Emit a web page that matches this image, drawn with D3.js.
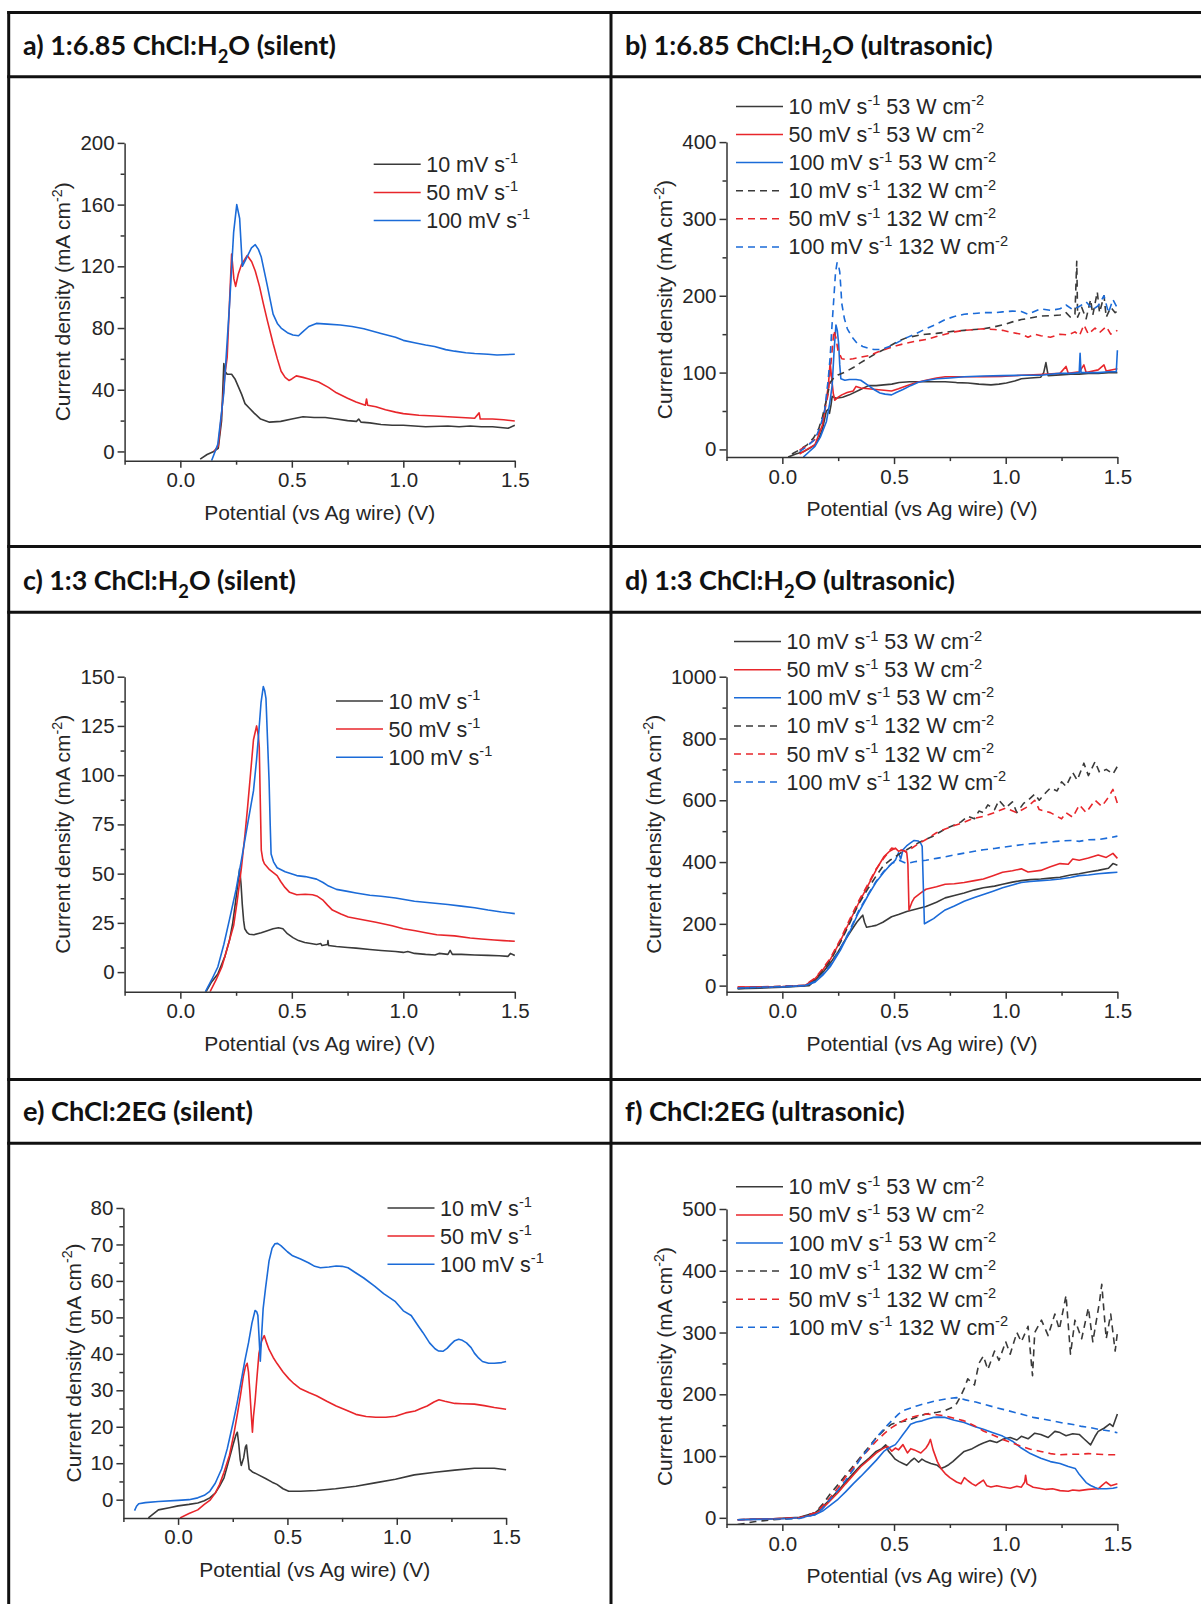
<!DOCTYPE html>
<html>
<head>
<meta charset="utf-8">
<script src="https://cdn.jsdelivr.net/npm/d3@7"></script>
<style>
body { margin: 0; background: #fff; }
svg { display: block; }
.axis text { font-family: "Liberation Sans", Arial, sans-serif; font-size: 20.5px; fill: #262626; }
.axis path, .axis line { stroke: #333; stroke-width: 1.5; }
.atitle { font-family: "Liberation Sans", Arial, sans-serif; font-size: 21px; fill: #262626; }
.legend text { font-family: "Liberation Sans", Arial, sans-serif; font-size: 21.5px; fill: #262626; }
.header { font-family: Lato, "Open Sans", sans-serif; font-weight: 700; fill: #111; }
</style>
</head>
<body>
<div class="figdiv"></div>
<script>
//sweeps: [potential (V), current density (mA cm-2)]

//a) 1:6.85 ChCl:H2O silent
var a10 = [[0.089,-5],[0.12,-2],[0.15,0],[0.17,2],[0.185,20],[0.195,57],[0.2,52],[0.21,50],[0.23,50],[0.245,47],[0.26,42],[0.275,37],[0.29,31],[0.31,28],[0.33,25],[0.36,21],[0.4,19],[0.45,19.5],[0.5,21],[0.55,22.5],[0.6,22],[0.65,22],[0.7,21],[0.75,20],[0.79,19.5],[0.8,21],[0.81,19],[0.85,18.5],[0.9,17.5],[0.95,17],[1.0,17],[1.05,16.5],[1.1,16],[1.2,16.5],[1.25,16],[1.3,16.5],[1.35,16],[1.4,16],[1.47,15],[1.5,17]];
var a50 = [[0.15,0],[0.17,3.5],[0.186,26],[0.2,50],[0.21,61],[0.22,95],[0.23,128],[0.24,112],[0.248,107],[0.26,115],[0.274,121],[0.3,127],[0.32,123],[0.336,117],[0.355,107],[0.372,96],[0.39,85],[0.416,70],[0.435,60],[0.452,52],[0.47,48],[0.487,46],[0.5,47],[0.52,49],[0.55,48],[0.576,47],[0.62,45],[0.664,41.5],[0.7,38],[0.75,34.5],[0.788,32],[0.83,30],[0.835,34],[0.84,30],[0.877,29],[0.92,27],[0.965,25.5],[1.0,24.5],[1.07,23.5],[1.14,23],[1.2,22.5],[1.26,22],[1.32,21.5],[1.34,25],[1.345,21],[1.4,21],[1.45,20.5],[1.5,19.7]];
var a100 = [[0.14,-6],[0.168,4.6],[0.195,38],[0.221,96],[0.239,142],[0.253,160],[0.266,151],[0.278,120],[0.292,124],[0.319,132],[0.336,134],[0.35,131],[0.363,126],[0.39,107.5],[0.416,89],[0.435,83],[0.452,80],[0.48,77],[0.505,75.5],[0.53,75],[0.545,77],[0.576,81],[0.61,83],[0.66,82.5],[0.717,82],[0.77,81],[0.823,79.5],[0.9,76.5],[0.965,74],[1.0,72],[1.05,70.5],[1.1,69],[1.14,68],[1.19,66],[1.23,65],[1.28,64],[1.32,63.5],[1.38,63],[1.42,62.5],[1.5,63]];

//b) 1:6.85 ChCl:H2O ultrasonic, s = 53 W cm-2, d = 132 W cm-2
var b10s = [[0.026,-10],[0.06,-6],[0.094,-3],[0.12,1],[0.146,6],[0.165,15],[0.18,27],[0.197,50],[0.205,52],[0.211,47],[0.218,58],[0.223,69],[0.24,66.5],[0.27,68],[0.3,71],[0.35,78],[0.386,83],[0.42,83],[0.454,84],[0.49,85],[0.523,87],[0.57,88],[0.609,88],[0.67,88],[0.729,88],[0.78,87],[0.831,86.5],[0.88,85],[0.934,84],[0.97,85],[1.003,86.5],[1.04,89],[1.07,92],[1.11,93],[1.157,94],[1.17,100],[1.18,113],[1.19,96],[1.243,97],[1.29,98],[1.329,98],[1.37,99],[1.414,99],[1.46,100],[1.5,100]];
var b50s = [[0.077,-6],[0.11,0],[0.146,6],[0.18,32],[0.206,83],[0.214,113],[0.221,92],[0.228,73],[0.235,64],[0.25,68],[0.266,71],[0.29,74],[0.317,76],[0.33,82],[0.351,80],[0.385,79],[0.42,78],[0.455,77],[0.489,76],[0.52,79],[0.557,83],[0.6,87],[0.643,90],[0.69,93],[0.729,94.5],[0.814,94.5],[0.9,94.5],[0.98,95],[1.07,96.5],[1.15,97.5],[1.243,99],[1.27,108],[1.28,99],[1.33,101],[1.35,110],[1.36,100],[1.414,103.5],[1.44,110],[1.45,102],[1.5,105]];
var b100s = [[0.094,-10],[0.12,-3],[0.146,4],[0.17,16],[0.197,36],[0.212,60],[0.223,83],[0.232,130],[0.24,162],[0.246,155],[0.252,138],[0.257,110],[0.262,92],[0.28,90],[0.3,91],[0.33,91],[0.351,90],[0.386,83],[0.41,78],[0.437,73.5],[0.46,72],[0.489,71],[0.51,74],[0.54,78],[0.574,83],[0.609,87.5],[0.65,90],[0.694,92],[0.75,93],[0.814,94.5],[0.9,95.5],[0.986,96],[1.07,96.5],[1.157,96.5],[1.24,99],[1.3,99],[1.329,100],[1.333,125],[1.337,100],[1.414,100],[1.46,101],[1.495,101],[1.5,129]];
var b10d = [[0.043,-6],[0.08,0],[0.111,6],[0.14,15],[0.163,27],[0.18,43],[0.197,64],[0.214,87],[0.23,93],[0.249,97],[0.283,101],[0.32,107],[0.351,113],[0.385,119],[0.42,125],[0.455,130],[0.489,136],[0.52,141],[0.557,145.5],[0.6,148],[0.643,150],[0.69,151],[0.729,152.5],[0.77,154],[0.814,155],[0.86,156],[0.9,157],[0.94,159],[0.986,162],[1.03,166],[1.07,169],[1.11,171],[1.157,173.5],[1.2,174],[1.243,175],[1.27,178],[1.29,172],[1.31,176],[1.318,245],[1.322,172],[1.34,185],[1.36,170],[1.38,195],[1.39,175],[1.41,205],[1.42,178],[1.44,200],[1.45,172],[1.47,185],[1.49,178],[1.5,180]];
var b50d = [[0.077,-1],[0.11,5],[0.146,13],[0.165,24],[0.18,36],[0.206,73.5],[0.22,120],[0.231,155],[0.24,145],[0.249,129],[0.266,118],[0.29,117],[0.317,118],[0.35,120],[0.386,122],[0.43,127],[0.471,131.5],[0.51,135],[0.557,138.5],[0.6,141],[0.643,143],[0.69,147],[0.729,150],[0.77,153],[0.814,155],[0.86,156],[0.9,157],[0.95,156],[0.986,155],[1.03,152],[1.07,150],[1.1,146],[1.13,150],[1.157,148],[1.2,146],[1.243,150],[1.28,149],[1.31,153],[1.33,148],[1.35,162],[1.37,150],[1.4,158],[1.42,152],[1.45,160],[1.47,150],[1.5,155]];
var b100d = [[0.077,-3],[0.11,4],[0.146,13],[0.17,30],[0.189,50],[0.205,90],[0.214,120],[0.222,160],[0.231,199],[0.238,230],[0.245,243],[0.251,240],[0.257,231],[0.262,210],[0.266,190],[0.278,170],[0.291,157],[0.31,147],[0.334,138.5],[0.36,134],[0.386,131.5],[0.41,130],[0.437,130],[0.46,132],[0.489,135],[0.52,140],[0.557,145.5],[0.6,151],[0.643,157],[0.69,163],[0.729,169],[0.77,173],[0.814,176],[0.86,177],[0.9,178],[0.95,178],[0.986,179],[1.03,180],[1.07,179.5],[1.1,176],[1.157,183],[1.2,181],[1.243,183],[1.27,188],[1.3,182],[1.329,186],[1.36,192],[1.39,182],[1.414,187],[1.44,200],[1.46,178],[1.48,195],[1.5,184]];

//c) 1:3 ChCl:H2O silent
var c10 = [[0.115,-10],[0.14,-5],[0.168,-1],[0.2,8],[0.221,16.5],[0.235,25],[0.248,36],[0.258,45],[0.266,52.5],[0.272,45],[0.278,34],[0.284,26],[0.289,22],[0.3,20],[0.31,19.2],[0.33,19],[0.363,20],[0.39,21],[0.416,22],[0.44,22.5],[0.46,22],[0.48,19.5],[0.505,17.5],[0.53,16],[0.558,15],[0.585,14.5],[0.611,14],[0.63,14.5],[0.635,13.5],[0.66,14],[0.662,16],[0.665,13.5],[0.7,13],[0.75,12.5],[0.788,12.2],[0.85,11.5],[0.9,11],[0.965,10.5],[1.0,10],[1.02,10.5],[1.05,9.5],[1.1,9],[1.142,8.7],[1.16,9.5],[1.2,9],[1.21,11],[1.22,9],[1.26,9],[1.32,8.7],[1.38,8.5],[1.43,8.3],[1.47,8],[1.48,9.5],[1.5,8.4]];
var c50 = [[0.133,-10],[0.16,-4],[0.186,2.6],[0.21,12],[0.239,23.6],[0.255,36],[0.274,53],[0.29,70],[0.301,83],[0.315,101],[0.328,118],[0.342,125],[0.35,120],[0.354,114],[0.358,90],[0.363,62],[0.37,57],[0.377,55],[0.4,52],[0.434,49],[0.45,46],[0.469,43],[0.49,40.5],[0.522,39.3],[0.56,39.5],[0.593,39.3],[0.615,38.5],[0.638,36.7],[0.66,34],[0.682,31.5],[0.72,29.5],[0.753,28],[0.8,27],[0.877,25.3],[0.95,23.5],[1.0,22],[1.054,21],[1.1,20],[1.15,19],[1.23,18.4],[1.3,17.3],[1.35,16.8],[1.408,16.3],[1.45,16],[1.5,15.7]];
var c100 = [[0.112,-10],[0.14,-4],[0.168,2.6],[0.195,14],[0.221,27],[0.25,42],[0.274,57],[0.3,74],[0.328,92],[0.342,108],[0.354,125],[0.362,137],[0.372,145],[0.378,143],[0.384,139],[0.391,118],[0.398,97],[0.403,75],[0.407,60],[0.418,56],[0.434,53],[0.47,51],[0.522,49],[0.56,48.5],[0.611,47.2],[0.64,45.5],[0.66,44],[0.7,42],[0.75,41],[0.788,40.2],[0.85,39],[0.9,38.5],[0.965,37.6],[1.05,36],[1.142,35],[1.2,34.3],[1.26,33.5],[1.32,32.7],[1.38,31.5],[1.44,30.5],[1.5,29.7]];

//d) 1:3 ChCl:H2O ultrasonic
var d10s = [[-0.2,-10],[-0.1,-8],[0,-5],[0.06,-3],[0.12,0],[0.146,17],[0.18,42],[0.214,72],[0.25,110],[0.283,150],[0.31,180],[0.334,206],[0.35,220],[0.36,228],[0.368,205],[0.377,189],[0.4,192],[0.42,195],[0.45,205],[0.489,223],[0.52,230],[0.557,240],[0.6,248],[0.643,256],[0.69,270],[0.729,284],[0.77,292],[0.814,300],[0.86,310],[0.9,317],[0.95,322],[0.986,328],[1.03,335],[1.07,340],[1.11,343],[1.157,345],[1.2,348],[1.243,351],[1.29,358],[1.329,362],[1.37,368],[1.414,373],[1.46,380],[1.48,395],[1.5,390]];
var d50s = [[-0.2,-5],[-0.1,-4],[0,-3],[0.1,0],[0.146,22],[0.18,50],[0.214,83.5],[0.26,145],[0.3,206],[0.34,265],[0.386,328],[0.42,375],[0.454,417],[0.48,435],[0.506,445],[0.52,435],[0.54,440],[0.557,430],[0.562,395],[0.567,245],[0.58,270],[0.591,284],[0.62,300],[0.643,312],[0.69,320],[0.729,328],[0.77,330],[0.814,334],[0.86,340],[0.9,345],[0.94,355],[0.986,367],[1.03,372],[1.07,378],[1.1,368],[1.157,373],[1.2,385],[1.243,395],[1.28,393],[1.3,410],[1.329,406],[1.37,413],[1.414,423],[1.45,415],[1.48,428],[1.5,412]];
var d100s = [[-0.2,-8],[-0.1,-6],[0,-4],[0.1,0],[0.146,11],[0.18,33],[0.214,61],[0.26,115],[0.3,172],[0.34,235],[0.386,295],[0.42,335],[0.454,367],[0.48,388],[0.506,406],[0.52,430],[0.53,410],[0.54,440],[0.556,452],[0.574,462],[0.59,470],[0.609,468],[0.62,460],[0.626,451],[0.636,200],[0.65,206],[0.677,217],[0.7,230],[0.729,245],[0.77,258],[0.814,273],[0.86,285],[0.9,295],[0.94,305],[0.986,317],[1.03,326],[1.07,334],[1.11,337],[1.157,340],[1.2,342],[1.243,345],[1.29,350],[1.329,356],[1.37,358],[1.414,362],[1.46,365],[1.5,367]];
var d10d = [[-0.2,-10],[-0.1,-6],[0,-3],[0.1,0],[0.146,20],[0.18,48],[0.214,80],[0.26,140],[0.3,200],[0.34,262],[0.386,317],[0.42,355],[0.454,390],[0.48,405],[0.506,417],[0.53,430],[0.557,440],[0.58,450],[0.609,462],[0.64,473],[0.677,484],[0.7,495],[0.729,507],[0.77,520],[0.8,530],[0.83,548],[0.86,540],[0.88,565],[0.9,560],[0.92,585],[0.95,570],[0.97,600],[1.0,575],[1.03,595],[1.05,560],[1.08,590],[1.1,600],[1.13,620],[1.15,600],[1.18,625],[1.2,640],[1.23,630],[1.25,660],[1.27,645],[1.3,690],[1.32,665],[1.35,720],[1.37,680],[1.4,725],[1.42,690],[1.45,700],[1.48,685],[1.5,710]];
var d50d = [[-0.2,-5],[-0.1,-4],[0,-2],[0.1,1],[0.146,24],[0.18,54],[0.214,88],[0.26,150],[0.3,212],[0.34,272],[0.386,332],[0.42,378],[0.454,412],[0.489,445],[0.52,440],[0.557,434],[0.6,455],[0.643,473],[0.69,495],[0.729,507],[0.77,518],[0.8,525],[0.85,540],[0.9,548],[0.95,560],[1.0,575],[1.05,560],[1.1,580],[1.13,600],[1.15,570],[1.2,560],[1.25,540],[1.27,560],[1.3,545],[1.33,585],[1.36,560],[1.4,600],[1.43,580],[1.46,610],[1.48,635],[1.5,590]];
var d100d = [[-0.2,-8],[-0.1,-5],[0,-3],[0.1,0],[0.146,13],[0.18,36],[0.214,66],[0.26,120],[0.3,176],[0.34,240],[0.386,298],[0.42,338],[0.454,370],[0.489,395],[0.523,406],[0.557,395],[0.591,401],[0.643,406],[0.69,412],[0.729,417],[0.77,423],[0.814,429],[0.86,435],[0.9,440],[0.95,444],[0.986,448],[1.03,452],[1.07,456],[1.11,459],[1.157,462],[1.2,465],[1.243,468],[1.29,470],[1.329,467],[1.37,472],[1.414,473],[1.46,478],[1.5,484]];

//e) ChCl:2EG silent
var e10 = [[-0.136,-5],[-0.09,-2.8],[-0.04,-2.2],[0,-1.7],[0.05,-1.3],[0.09,-0.9],[0.12,-0.3],[0.145,0.5],[0.17,1.8],[0.19,3.7],[0.21,6],[0.226,9.4],[0.24,12.5],[0.253,15.4],[0.265,17.8],[0.271,18.5],[0.278,15],[0.284,11],[0.289,9.4],[0.3,11.5],[0.308,14.5],[0.313,15],[0.318,12],[0.325,8.4],[0.34,7.6],[0.361,7],[0.4,5.8],[0.43,4.8],[0.452,4.2],[0.48,3],[0.506,2.3],[0.56,2.3],[0.633,2.5],[0.72,3],[0.813,3.7],[0.9,4.6],[0.994,5.6],[1.08,6.8],[1.175,7.5],[1.265,8.1],[1.355,8.6],[1.446,8.6],[1.5,8.2]];
var e50 = [[0.009,-5],[0.05,-3.8],[0.09,-2.8],[0.12,-1.3],[0.145,-0.2],[0.17,1.8],[0.19,4.2],[0.21,7.5],[0.235,12.2],[0.255,18],[0.271,23.4],[0.285,28.5],[0.298,33.7],[0.308,36.5],[0.316,37.4],[0.322,35],[0.329,29],[0.335,23],[0.34,18.5],[0.345,23],[0.352,27],[0.36,33],[0.37,40.2],[0.382,43.5],[0.394,45],[0.405,43],[0.416,41.2],[0.435,39],[0.452,37.4],[0.48,35],[0.506,33.2],[0.53,31.8],[0.56,30.4],[0.6,29.3],[0.633,28.5],[0.68,27],[0.723,25.7],[0.77,24.5],[0.813,23.4],[0.86,22.8],[0.904,22.6],[0.95,22.6],[0.994,22.9],[1.04,23.8],[1.084,24.3],[1.11,25],[1.139,25.7],[1.17,26.8],[1.193,27.4],[1.22,27],[1.265,26.4],[1.3,26.3],[1.355,26.2],[1.4,25.8],[1.446,25.3],[1.5,24.8]];
var e100 = [[-0.199,-3],[-0.19,-1.8],[-0.18,-1.1],[-0.15,-0.8],[-0.09,-0.5],[0,-0.2],[0.05,0],[0.09,0.5],[0.12,1.2],[0.145,2.3],[0.17,4.5],[0.199,8.4],[0.225,14],[0.253,21.5],[0.27,26.5],[0.289,32.7],[0.305,38],[0.322,43],[0.338,48.5],[0.352,51.9],[0.36,51.5],[0.365,50.5],[0.37,45],[0.376,38],[0.382,45],[0.389,52.4],[0.4,58],[0.416,65.5],[0.43,69],[0.443,70.2],[0.455,70.3],[0.47,69.7],[0.5,68],[0.524,66.9],[0.56,66],[0.596,65],[0.625,64],[0.651,63.6],[0.69,63.8],[0.723,64.1],[0.75,64],[0.777,63.6],[0.81,62.3],[0.849,60.8],[0.9,58.5],[0.94,56.5],[0.994,54.3],[1.03,51.8],[1.066,50.5],[1.1,47.5],[1.12,45.8],[1.15,43],[1.175,41.4],[1.19,40.8],[1.211,40.7],[1.23,41.5],[1.247,42.6],[1.265,43.6],[1.283,44],[1.3,43.7],[1.319,43],[1.34,41.7],[1.355,40.2],[1.375,38.8],[1.392,37.9],[1.42,37.4],[1.446,37.4],[1.48,37.6],[1.5,37.9]];

//f) ChCl:2EG ultrasonic
var f10s = [[-0.2,-3],[-0.1,-2],[-0.04,-1.6],[0.077,1],[0.146,8],[0.18,18],[0.214,30],[0.25,44],[0.283,58],[0.32,73],[0.351,85],[0.39,97],[0.42,107.5],[0.445,112],[0.463,118],[0.475,108],[0.489,102],[0.505,95],[0.523,91],[0.54,88],[0.557,85],[0.575,92],[0.591,96.5],[0.61,90],[0.625,95],[0.643,91],[0.665,88],[0.694,85],[0.71,80],[0.729,82.7],[0.745,86],[0.763,91],[0.79,100],[0.814,107.5],[0.85,112],[0.88,118],[0.9,121],[0.93,125],[0.96,122],[0.986,127],[1.02,130],[1.05,126],[1.07,132],[1.1,128],[1.13,137],[1.157,135],[1.19,130],[1.22,140],[1.243,138],[1.27,133],[1.3,136],[1.329,135],[1.35,128],[1.38,118],[1.4,132],[1.414,140],[1.44,145],[1.466,152],[1.48,148],[1.5,168]];
var f50s = [[-0.2,-3],[-0.1,-2],[0,-1],[0.077,0],[0.146,5.5],[0.18,15],[0.214,27.6],[0.25,41],[0.283,55],[0.32,70],[0.351,82.7],[0.39,95],[0.42,104.7],[0.45,112],[0.471,115.8],[0.49,108],[0.506,113],[0.52,110],[0.54,118.5],[0.56,105],[0.575,112],[0.591,110],[0.62,105],[0.643,113],[0.655,120],[0.663,127],[0.675,110],[0.694,91],[0.71,80],[0.729,71.7],[0.75,65],[0.78,58],[0.8,55],[0.815,65],[0.831,60],[0.85,55],[0.866,52],[0.88,56],[0.9,61],[0.915,52],[0.934,50],[0.96,52],[0.986,50],[1.02,48],[1.05,51],[1.07,49.6],[1.085,58],[1.089,69],[1.095,55],[1.123,49.6],[1.15,48],[1.18,46],[1.21,47],[1.243,44],[1.28,43],[1.3,45],[1.329,44],[1.37,46],[1.414,47],[1.43,52],[1.449,58],[1.47,52],[1.5,55]];
var f100s = [[-0.2,-3],[-0.1,-2.5],[0,-1.5],[0.077,0],[0.146,5],[0.18,11],[0.214,20],[0.249,30],[0.283,42],[0.317,55],[0.351,67],[0.386,80],[0.42,93],[0.454,107.5],[0.48,114],[0.506,118.5],[0.52,125],[0.54,135],[0.557,143],[0.574,151.6],[0.6,155],[0.626,157],[0.65,160],[0.677,162.6],[0.7,163],[0.729,162.6],[0.77,158],[0.814,154.4],[0.86,148],[0.9,143.3],[0.94,138],[0.986,132.3],[1.03,124],[1.07,113],[1.11,104],[1.157,96.5],[1.2,91],[1.243,88],[1.28,83],[1.311,80],[1.33,70],[1.346,63.4],[1.36,57],[1.38,52.4],[1.4,49],[1.414,47],[1.45,47],[1.48,48],[1.5,49.6]];
var f10d = [[-0.2,-11],[-0.12,-6],[-0.04,-3],[0.077,0],[0.146,8],[0.18,22],[0.214,38.6],[0.25,54],[0.283,69],[0.32,85],[0.351,99],[0.39,116],[0.42,129.5],[0.455,142],[0.489,151.6],[0.52,155],[0.557,157],[0.6,163],[0.643,168],[0.694,171],[0.73,174],[0.763,179],[0.78,185],[0.797,196],[0.815,210],[0.83,225],[0.86,215],[0.88,250],[0.9,262],[0.92,240],[0.95,270],[0.97,255],[1.0,285],[1.02,265],[1.05,300],[1.07,285],[1.1,310],[1.12,230],[1.13,300],[1.16,320],[1.19,295],[1.22,330],[1.24,305],[1.27,360],[1.29,265],[1.31,320],[1.34,290],[1.37,340],[1.39,285],[1.42,350],[1.43,378],[1.45,290],[1.47,330],[1.49,270],[1.5,300]];
var f50d = [[-0.2,-3],[-0.1,-2],[0,-1],[0.077,0],[0.146,8],[0.18,19],[0.214,33],[0.25,49],[0.283,66],[0.32,82],[0.351,96.5],[0.39,112],[0.42,124],[0.455,136],[0.489,146],[0.52,153],[0.557,160],[0.6,165],[0.643,168],[0.69,167],[0.729,165],[0.77,161],[0.814,157],[0.86,149],[0.9,140.6],[0.95,133],[0.986,126.8],[1.03,121],[1.07,115.8],[1.11,111],[1.157,107.5],[1.2,104],[1.243,102],[1.29,103],[1.329,103],[1.37,104],[1.414,103],[1.46,102],[1.5,102]];
var f100d = [[-0.2,-3],[-0.1,-2],[0,-2],[0.077,-1],[0.146,5],[0.18,15],[0.214,30],[0.25,45],[0.283,60.6],[0.32,79],[0.351,96.5],[0.39,114],[0.42,129.5],[0.455,144],[0.489,157],[0.52,168],[0.54,173.6],[0.575,178],[0.609,182],[0.65,186],[0.694,190],[0.74,193],[0.78,194.6],[0.82,191],[0.866,187.4],[0.91,183],[0.951,179],[0.995,175],[1.037,171],[1.08,167],[1.123,162.6],[1.165,160],[1.209,157],[1.25,154],[1.294,151.6],[1.34,148],[1.38,146],[1.42,143],[1.466,140.6],[1.5,137.8]];

//labels (^ marks a superscript, _ a subscript)
var silentLabels = ["10 mV s^-1", "50 mV s^-1", "100 mV s^-1"];
var ultraLabels = ["10 mV s^-1 53 W cm^-2", "50 mV s^-1 53 W cm^-2", "100 mV s^-1 53 W cm^-2",
    "10 mV s^-1 132 W cm^-2", "50 mV s^-1 132 W cm^-2", "100 mV s^-1 132 W cm^-2"];
var xTicks = [0, 0.5, 1.0, 1.5];
var xMinor = [-0.25, 0.25, 0.75, 1.25];
var xTitle = "Potential (vs Ag wire) (V)";
var yTitle = "Current density (mA cm^-2)";

//line colours: 10, 50, 100 mV s-1
var colors = ["#3a3a3a", "#e8262b", "#1b6bd8"];

//panel layout in page pixels
var panels = [
    {title: "a) 1:6.85 ChCl:H_2O (silent)", tx: 23, ty: 55.4, tw: 313,
     x0: 124.6, x1: 514.8, yb: 460.7, yt: 142.9, ymin: -6, ymax: 200, step: 40,
     series: [a10, a50, a100], labels: silentLabels, lx: 373.7, ly: 164.3},
    {title: "b) 1:6.85 ChCl:H_2O (ultrasonic)", tx: 625, ty: 55.4, tw: 368,
     x0: 726.5, x1: 1117.4, yb: 457.1, yt: 142.1, ymin: -10, ymax: 400, step: 100,
     series: [b10s, b50s, b100s, b10d, b50d, b100d], labels: ultraLabels, lx: 736, ly: 106.4},
    {title: "c) 1:3 ChCl:H_2O (silent)", tx: 23, ty: 590, tw: 273,
     x0: 124.6, x1: 514.8, yb: 991.8, yt: 676.7, ymin: -10, ymax: 150, step: 25,
     series: [c10, c50, c100], labels: silentLabels, lx: 336, ly: 701},
    {title: "d) 1:3 ChCl:H_2O (ultrasonic)", tx: 625, ty: 590, tw: 330,
     x0: 726.5, x1: 1117.4, yb: 991.8, yt: 676.7, ymin: -20, ymax: 1000, step: 200,
     series: [d10s, d50s, d100s, d10d, d50d, d100d], labels: ultraLabels, lx: 734, ly: 641.6},
    {title: "e) ChCl:2EG (silent)", tx: 23, ty: 1121, tw: 230,
     x0: 123.4, x1: 506.1, yb: 1517.9, yt: 1208, ymin: -5, ymax: 80, step: 10,
     series: [e10, e50, e100], labels: silentLabels, lx: 387.5, ly: 1208},
    {title: "f) ChCl:2EG (ultrasonic)", tx: 625, ty: 1121, tw: 280,
     x0: 726.5, x1: 1117.4, yb: 1524, yt: 1209, ymin: -10, ymax: 500, step: 100,
     series: [f10s, f50s, f100s, f10d, f50d, f100d], labels: ultraLabels, lx: 736, ly: 1186.8}
];

//begin script when window loads
window.onload = drawFigure();

function drawFigure(){

    var svg = d3.select("div.figdiv")
        .append("svg")
        .attr("width", 1201)
        .attr("height", 1604);

    svg.append("rect")
        .attr("width", 1201)
        .attr("height", 1604)
        .style("fill", "#fff");

    drawFrame(svg);

    panels.forEach(function(p, i){
        drawPanel(svg, p, i);
    });
};

//table lines around the six panels
function drawFrame(svg){
    var rows = [12.5, 76.8, 546.5, 612.3, 1079.5, 1143.2];
    var cols = [8.7, 611];

    var frame = svg.append("g")
        .style("stroke", "#111")
        .style("stroke-width", 3);

    rows.forEach(function(y){
        frame.append("line")
            .attr("x1", 7.2).attr("x2", 1201)
            .attr("y1", y).attr("y2", y);
    });
    cols.forEach(function(x){
        frame.append("line")
            .attr("x1", x).attr("x2", x)
            .attr("y1", 11).attr("y2", 1604);
    });
};

//write text with ^ superscripts and _ subscripts into a text element
function richText(sel, str, size){
    var parts = str.split(/([\^_]-?\d)/);
    var shift = 0;
    parts.forEach(function(part){
        if (part === "") return;
        var t = sel.append("tspan");
        if (part[0] == "^" || part[0] == "_") {
            var d = part[0] == "^" ? -0.4 * size : 0.28 * size;
            t.attr("dy", d - shift)
                .style("font-size", (0.68 * size) + "px")
                .text(part.slice(1));
            shift = d;
        } else {
            t.attr("dy", -shift).text(part);
            shift = 0;
        };
    });
};

function drawPanel(svg, p, idx){

    //header text, sized to the width in the reference
    var head = svg.append("text")
        .attr("class", "header")
        .attr("x", p.tx)
        .attr("y", p.ty)
        .style("font-size", "26px");
    richText(head, p.title, 26);
    var natural = head.node().getComputedTextLength();
    var fs = 26 * p.tw / natural;
    head.selectAll("*").remove();
    head.style("font-size", fs + "px");
    richText(head, p.title, fs);

    var x = d3.scaleLinear()
        .domain([-0.25, 1.5])
        .range([p.x0, p.x1]);

    var y = d3.scaleLinear()
        .domain([p.ymin, p.ymax])
        .range([p.yb, p.yt]);

    var yMajor = d3.range(0, p.ymax + p.step / 2, p.step);
    var yMinor = d3.range(p.step / 2, p.ymax, p.step);

    var g = svg.append("g");

    //clip lines to the plot area
    var clipId = "clip" + idx;
    g.append("clipPath")
        .attr("id", clipId)
        .append("rect")
        .attr("x", p.x0)
        .attr("y", p.yt - 10)
        .attr("width", p.x1 - p.x0 + 2)
        .attr("height", p.yb - p.yt + 10);

    var line = d3.line()
        .x(function(d){ return x(d[0]); })
        .y(function(d){ return y(d[1]); });

    g.append("g")
        .attr("clip-path", "url(#" + clipId + ")")
        .selectAll(".sweep")
        .data(p.series)
        .enter()
        .append("path")
        .attr("class", "sweep")
        .attr("d", line)
        .style("fill", "none")
        .style("stroke", function(d, i){ return colors[i % 3]; })
        .style("stroke-width", 1.6)
        .style("stroke-linejoin", "round")
        .style("stroke-dasharray", function(d, i){ return i >= 3 ? "7,5" : null; });

    //x axis, major and minor ticks
    var xAxis = g.append("g")
        .attr("class", "axis")
        .attr("transform", "translate(0," + p.yb + ")")
        .call(d3.axisBottom(x).tickValues(xTicks).tickSize(7).tickSizeOuter(0)
            .tickPadding(5).tickFormat(d3.format(".1f")));
    xAxis.attr("font-size", null).attr("font-family", null);

    g.append("g")
        .attr("class", "axis")
        .attr("transform", "translate(0," + p.yb + ")")
        .call(d3.axisBottom(x).tickValues(xMinor).tickSize(4).tickSizeOuter(0).tickFormat(""))
        .select(".domain").remove();

    //y axis, major and minor ticks
    var yAxis = g.append("g")
        .attr("class", "axis")
        .attr("transform", "translate(" + p.x0 + ",0)")
        .call(d3.axisLeft(y).tickValues(yMajor).tickSize(7).tickSizeOuter(0)
            .tickPadding(3).tickFormat(d3.format("d")));
    yAxis.attr("font-size", null).attr("font-family", null);

    g.append("g")
        .attr("class", "axis")
        .attr("transform", "translate(" + p.x0 + ",0)")
        .call(d3.axisLeft(y).tickValues(yMinor).tickSize(4).tickSizeOuter(0).tickFormat(""))
        .select(".domain").remove();

    //widest tick label sets the y title offset
    var maxW = 0;
    yAxis.selectAll("text").each(function(){
        maxW = Math.max(maxW, this.getComputedTextLength());
    });

    var xt = g.append("text")
        .attr("class", "atitle")
        .attr("x", (p.x0 + p.x1) / 2)
        .attr("y", p.yb + 59)
        .attr("text-anchor", "middle");
    richText(xt, xTitle, 21);

    var ycx = p.x0 - 10 - maxW - 17;
    var ycy = (p.yb + p.yt) / 2;
    var yt = g.append("text")
        .attr("class", "atitle")
        .attr("transform", "translate(" + (ycx + 7) + "," + ycy + ") rotate(-90)")
        .attr("text-anchor", "middle");
    richText(yt, yTitle, 21);

    //legend
    var legend = g.append("g").attr("class", "legend");
    p.labels.forEach(function(label, i){
        var ly = p.ly + i * 28.1;
        legend.append("line")
            .attr("x1", p.lx).attr("x2", p.lx + 47)
            .attr("y1", ly).attr("y2", ly)
            .style("stroke", colors[i % 3])
            .style("stroke-width", 1.5)
            .style("stroke-dasharray", i >= 3 ? "7,5" : null);
        var t = legend.append("text")
            .attr("x", p.lx + 52.5)
            .attr("y", ly + 7.5);
        richText(t, label, 21.5);
    });
};
</script>
</body>
</html>
